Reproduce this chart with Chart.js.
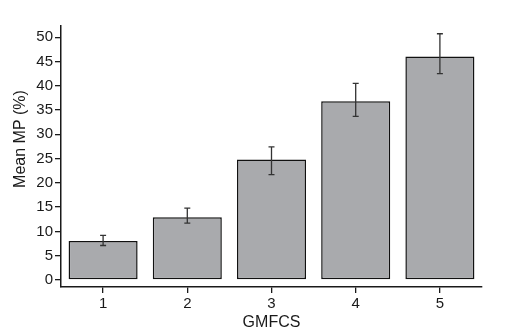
<!DOCTYPE html>
<html>
<head>
<meta charset="utf-8">
<script src="https://cdn.jsdelivr.net/npm/chart.js@4"></script>
<style>
  html, body { margin: 0; padding: 0; background: #fff; }
  #wrap { width: 508px; height: 332px; }
</style>
</head>
<body>
<div id="wrap"><canvas id="mpChart" width="508" height="332"></canvas></div>
<script>
const categories = ['1', '2', '3', '4', '5'];
const meanMP = [8.0, 12.9, 24.8, 36.8, 46.0];
const errLow = [7.1, 11.7, 21.7, 33.7, 42.5];
const errHigh = [9.2, 14.8, 27.4, 40.5, 50.7];
const yTicks = [0, 5, 10, 15, 20, 25, 30, 35, 40, 45, 50];

const ink = '#1a1a1a';
const font = 'Liberation Sans, Arial, sans-serif';

// error bars drawn through the y scale
const errorBars = {
  id: 'errorBars',
  afterDatasetsDraw(chart) {
    const { ctx, scales: { y } } = chart;
    const meta = chart.getDatasetMeta(0);
    ctx.save();
    ctx.strokeStyle = '#333';
    ctx.lineWidth = 1.3;
    meta.data.forEach((bar, i) => {
      const x = bar.x;
      const yHi = y.getPixelForValue(errHigh[i]);
      const yLo = y.getPixelForValue(errLow[i]);
      ctx.beginPath();
      ctx.moveTo(x, yHi); ctx.lineTo(x, yLo);
      ctx.moveTo(x - 3, yHi); ctx.lineTo(x + 3, yHi);
      ctx.moveTo(x - 3, yLo); ctx.lineTo(x + 3, yLo);
      ctx.stroke();
    });
    ctx.restore();
  }
};

// rotated y title, placed a bit above the area centre like the original
const yTitle = {
  id: 'yTitle',
  afterDraw(chart) {
    const { ctx } = chart;
    ctx.save();
    ctx.translate(21, 139);
    ctx.rotate(-Math.PI / 2);
    ctx.fillStyle = ink;
    ctx.font = '16px ' + font;
    ctx.textAlign = 'center';
    ctx.textBaseline = 'middle';
    ctx.fillText('Mean MP (%)', 0, 0);
    ctx.restore();
  }
};

new Chart(document.getElementById('mpChart').getContext('2d'), {
  type: 'bar',
  data: {
    labels: categories,
    datasets: [{
      data: meanMP,
      backgroundColor: '#a9aaad',
      borderColor: '#111',
      borderWidth: 1.5,
      borderSkipped: false,
      barPercentage: 0.82,
      categoryPercentage: 1.0
    }]
  },
  options: {
    responsive: false,
    animation: false,
    layout: { padding: { left: 0, right: 26, top: 26, bottom: 0 } },
    plugins: { legend: { display: false }, tooltip: { enabled: false } },
    scales: {
      x: {
        offset: true,
        afterFit: (scale) => { scale.height = 45; },
        grid: { offset: false, drawOnChartArea: false, color: ink, tickLength: 6, lineWidth: 1.3 },
        border: { display: true, color: ink, width: 1.5 },
        ticks: { color: ink, font: { family: font, size: 15 }, padding: 2 },
        title: { display: true, text: 'GMFCS', color: ink, font: { family: font, size: 16 }, padding: { top: -3, bottom: 0 } }
      },
      y: {
        min: -1.45,
        max: 52.3,
        afterFit: (scale) => { scale.width = 61; },
        afterBuildTicks: (scale) => { scale.ticks = yTicks.map(v => ({ value: v })); },
        grid: { drawOnChartArea: false, color: ink, tickLength: 6, lineWidth: 1.3 },
        border: { display: true, color: ink, width: 1.5 },
        ticks: { color: ink, font: { family: font, size: 15 }, padding: 2 }
      }
    }
  },
  plugins: [errorBars, yTitle]
});
</script>
</body>
</html>
